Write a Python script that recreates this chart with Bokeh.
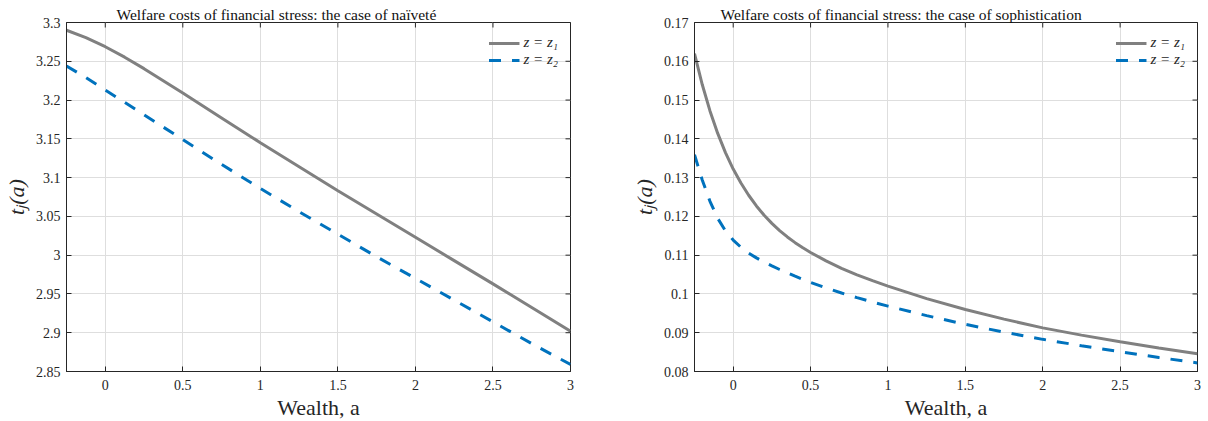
import math
from bokeh.plotting import figure
from bokeh.layouts import row
from bokeh.models import FixedTicker, Range1d, Legend, LegendItem
from bokeh.embed import file_html
from bokeh.resources import INLINE

# ---------------- data ----------------
a_left = [-0.25, -0.125, 0, 0.125, 0.25, 0.5, 0.75, 1, 1.25, 1.5, 1.75, 2, 2.25, 2.5, 2.75, 3]
naive_z1 = [3.290, 3.2805, 3.2688, 3.2553, 3.2405, 3.209, 3.177, 3.145, 3.114, 3.083, 3.053,
            3.023, 2.993, 2.963, 2.9325, 2.902]
naive_z2 = [3.244, 3.229, 3.213, 3.197, 3.181, 3.149, 3.117, 3.086, 3.056, 3.027, 2.998,
            2.970, 2.942, 2.914, 2.886, 2.859]

a_right = [-0.25, -0.2, -0.15, -0.1, -0.05, 0, 0.05, 0.1, 0.15, 0.2, 0.25, 0.3, 0.35, 0.4,
           0.45, 0.5, 0.6, 0.7, 0.8, 0.9, 1, 1.25, 1.5, 1.75, 2, 2.25, 2.5, 2.75, 3]
soph_z1 = [0.1620, 0.1540, 0.1472, 0.1414, 0.13645, 0.1322, 0.1286, 0.12545, 0.1227, 0.1203,
           0.1182, 0.11635, 0.1147, 0.11323, 0.1119, 0.1107, 0.10852, 0.10662, 0.10494,
           0.10342, 0.10202, 0.0988, 0.0960, 0.0935, 0.09125, 0.08938, 0.08765, 0.08608,
           0.0846]
soph_z2 = [0.1359, 0.1294, 0.1239, 0.1195, 0.11625, 0.1139, 0.11205, 0.11055, 0.1093, 0.1082,
           0.10723, 0.10630, 0.10543, 0.10457, 0.10376, 0.10296, 0.10154, 0.10024, 0.09904,
           0.09792, 0.09686, 0.09441, 0.09216, 0.09014, 0.08829, 0.08664, 0.08509, 0.08361,
           0.08221]

x_ticks = [0, 0.5, 1, 1.5, 2, 2.5, 3]
x_tick_labels = ["0", "0.5", "1", "1.5", "2", "2.5", "3"]
left_y_ticks = [2.85, 2.9, 2.95, 3.0, 3.05, 3.1, 3.15, 3.2, 3.25, 3.3]
left_y_labels = ["2.85", "2.9", "2.95", "3", "3.05", "3.1", "3.15", "3.2", "3.25", "3.3"]
right_y_ticks = [0.08, 0.09, 0.10, 0.11, 0.12, 0.13, 0.14, 0.15, 0.16, 0.17]
right_y_labels = ["0.08", "0.09", "0.1", "0.11", "0.12", "0.13", "0.14", "0.15", "0.16", "0.17"]

titles = ["Welfare costs of financial stress: the case of naïveté",
          "Welfare costs of financial stress: the case of sophistication"]
series_labels = ["z = z\u2081", "z = z\u2082"]
x_label = "Wealth, a"
y_label = "t\u2c7c(a)"

FONT = "Liberation Serif"
DARK = "#262626"
GRAY = "#808080"
BLUE = "#0072BD"
GRID = "#dedede"
X_MIN, X_MAX = -0.25, 3


def make(a, y1, y2, yr, yticks, ylabels, title, title_offset, bl, br, fw):
    p = figure(frame_width=fw, frame_height=349,
               x_range=Range1d(X_MIN, X_MAX), y_range=Range1d(*yr),
               output_backend="svg", toolbar_location=None,
               min_border_left=bl, min_border_right=br,
               min_border_top=22, min_border_bottom=49,
               outline_line_color=DARK, outline_line_width=1,
               background_fill_color="white", border_fill_color="white")
    p.title.text = title
    p.title.align = "left"
    p.title.text_font = FONT
    p.title.text_font_size = "15.5px"
    p.title.text_font_style = "normal"
    p.title.text_color = "#111111"
    p.title.standoff = 0
    p.title.offset = title_offset

    r1 = p.line(a, y1, line_color=GRAY, line_width=3)
    r2 = p.line(a, y2, line_color=BLUE, line_width=3, line_dash="12 11")

    # mirrored inward ticks on the top and right edges of the box
    p.scatter(x_ticks, [yr[1]] * len(x_ticks), marker="dash", angle=math.pi / 2,
              size=10, line_color=DARK, line_width=1)
    p.scatter([X_MAX] * len(yticks), yticks, marker="dash",
              size=10, line_color=DARK, line_width=1)

    xt = FixedTicker(ticks=x_ticks)
    yt = FixedTicker(ticks=yticks)
    xo = {t: l for t, l in zip(x_ticks, x_tick_labels)}
    yo = {t: l for t, l in zip(yticks, ylabels)}

    for ax, tk, ov in ((p.xaxis[0], xt, xo), (p.yaxis[0], yt, yo)):
        ax.ticker = tk
        ax.major_label_overrides = ov
        ax.major_label_text_font = FONT
        ax.major_label_text_font_size = "14px"
        ax.major_label_text_color = DARK
        ax.axis_line_color = DARK
        ax.major_tick_line_color = DARK
        ax.major_tick_in = 5
        ax.major_tick_out = 0
        ax.minor_tick_line_color = None
        ax.axis_label_text_font = FONT
        ax.axis_label_text_color = DARK
    p.xaxis[0].axis_label = x_label
    p.xaxis[0].axis_label_text_font_size = "22px"
    p.xaxis[0].axis_label_text_font_style = "normal"
    p.xaxis[0].axis_label_standoff = 2
    p.xaxis[0].major_label_standoff = 8
    p.yaxis[0].axis_label = y_label
    p.yaxis[0].axis_label_text_font_size = "22px"
    p.yaxis[0].axis_label_text_font_style = "italic"
    p.yaxis[0].axis_label_standoff = 4
    p.yaxis[0].major_label_standoff = 6

    p.xgrid.ticker = xt
    p.ygrid.ticker = yt
    p.xgrid.grid_line_color = GRID
    p.ygrid.grid_line_color = GRID

    leg = Legend(items=[LegendItem(label=series_labels[0], renderers=[r1]),
                        LegendItem(label=series_labels[1], renderers=[r2])],
                 location="top_right", border_line_color=None,
                 background_fill_alpha=0, label_text_font=FONT,
                 label_text_font_size="15px", label_text_font_style="italic",
                 label_text_line_height=0.9,
                 label_text_color=DARK, glyph_width=31, glyph_height=12,
                 label_height=12, spacing=0, padding=0, margin=12, label_standoff=4)
    p.add_layout(leg)
    return p


p1 = make(a_left, naive_z1, naive_z2, (2.85, 3.3), left_y_ticks, left_y_labels,
          titles[0], 50, 59, 37, 504)
p2 = make(a_right, soph_z1, soph_z2, (0.08, 0.17), right_y_ticks, right_y_labels,
          titles[1], 26, 87, 4, 503)

layout = row(p1, p2)
open("out.html", "w").write(file_html(layout, INLINE))
